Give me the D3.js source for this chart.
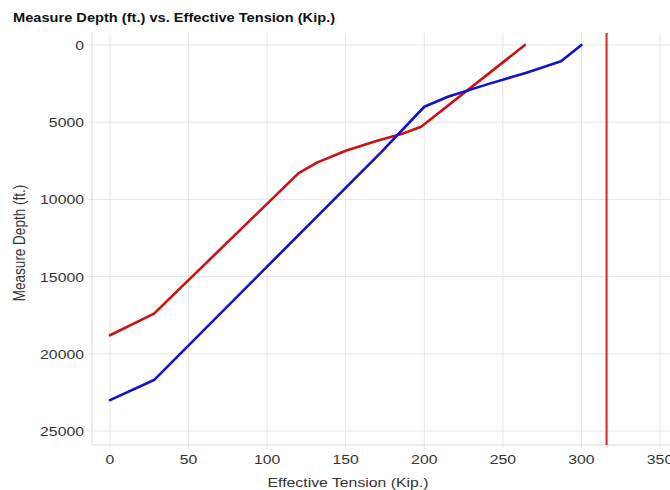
<!DOCTYPE html>
<html>
<head>
<meta charset="utf-8">
<script src="https://cdn.jsdelivr.net/npm/d3@7"></script>
<style>
  body { margin: 0; background: #fff; }
  text { font-family: "Liberation Sans", Arial, sans-serif; }
</style>
</head>
<body>
<svg width="670" height="490"></svg>
<script>
const redTension = [0, 28, 120, 132, 150, 170, 186, 198, 264];
const redDepth = [18800, 17400, 8300, 7600, 6850, 6200, 5750, 5300, 0];

const blueTension = [0, 28, 172, 200, 215, 240, 265, 287, 300];
const blueDepth = [23000, 21700, 7000, 4000, 3350, 2550, 1800, 1050, 0];

const limitTension = 316;

const xTicks = [0, 50, 100, 150, 200, 250, 300, 350];
const yTicks = [0, 5000, 10000, 15000, 20000, 25000];

const svg = d3.select("svg");

// plot area
const plotLeft = 92, plotRight = 700, plotTop = 33, plotBottom = 445;
// the source picture is a bit stretched sideways
const stretch = 1.17;

const x = d3.scaleLinear().domain([0, 350]).range([110, 660]);
const y = d3.scaleLinear().domain([0, 25000]).range([45, 431]);

// title
svg.append("text")
  .attr("transform", `translate(13,22) scale(${stretch},1)`)
  .attr("font-size", 12.5).attr("font-weight", "bold").attr("fill", "#111")
  .text("Measure Depth (ft.) vs. Effective Tension (Kip.)");

// grid
svg.append("g").selectAll("line").data(xTicks).join("line")
  .attr("x1", d => x(d)).attr("x2", d => x(d))
  .attr("y1", plotTop).attr("y2", plotBottom + 4)
  .attr("stroke", "#e6e6e6").attr("stroke-width", 1);

svg.append("g").selectAll("line").data(yTicks).join("line")
  .attr("x1", plotLeft - 4).attr("x2", plotRight)
  .attr("y1", d => y(d)).attr("y2", d => y(d))
  .attr("stroke", "#e6e6e6").attr("stroke-width", 1);

// frame (left + bottom)
svg.append("line").attr("x1", plotLeft).attr("x2", plotLeft).attr("y1", plotTop).attr("y2", plotBottom)
  .attr("stroke", "#d9d9d9");
svg.append("line").attr("x1", plotLeft).attr("x2", plotRight).attr("y1", plotBottom).attr("y2", plotBottom)
  .attr("stroke", "#d9d9d9");

// tick labels
svg.append("g").selectAll("text").data(xTicks).join("text")
  .attr("transform", d => `translate(${x(d)},464) scale(${stretch},1)`)
  .attr("text-anchor", "middle").attr("font-size", 13.5).attr("fill", "#333")
  .text(d => d);

svg.append("g").selectAll("text").data(yTicks).join("text")
  .attr("transform", d => `translate(84,${y(d) + 5}) scale(${stretch},1)`)
  .attr("text-anchor", "end").attr("font-size", 13.5).attr("fill", "#333")
  .text(d => d);

// axis titles
svg.append("text")
  .attr("transform", `translate(348,487) scale(${stretch},1)`)
  .attr("text-anchor", "middle").attr("font-size", 13.5).attr("fill", "#333")
  .text("Effective Tension (Kip.)");

svg.append("text")
  .attr("transform", `translate(25,243) scale(${stretch},1) rotate(-90)`)
  .attr("text-anchor", "middle").attr("font-size", 13.5).attr("fill", "#333")
  .text("Measure Depth (ft.)");

// series
const line = d3.line().x(d => x(d[0])).y(d => y(d[1]));

svg.append("path")
  .datum(d3.zip(redTension, redDepth))
  .attr("d", line)
  .attr("fill", "none").attr("stroke", "#cc1111").attr("stroke-width", 2.6)
  .attr("stroke-linejoin", "round").attr("stroke-linecap", "round");

svg.append("path")
  .datum(d3.zip(blueTension, blueDepth))
  .attr("d", line)
  .attr("fill", "none").attr("stroke", "#1111cc").attr("stroke-width", 2.6)
  .attr("stroke-linejoin", "round").attr("stroke-linecap", "round");

// limit line
svg.append("line")
  .attr("x1", x(limitTension)).attr("x2", x(limitTension))
  .attr("y1", plotTop).attr("y2", plotBottom)
  .attr("stroke", "#dd2222").attr("stroke-width", 2);
</script>
</body>
</html>
